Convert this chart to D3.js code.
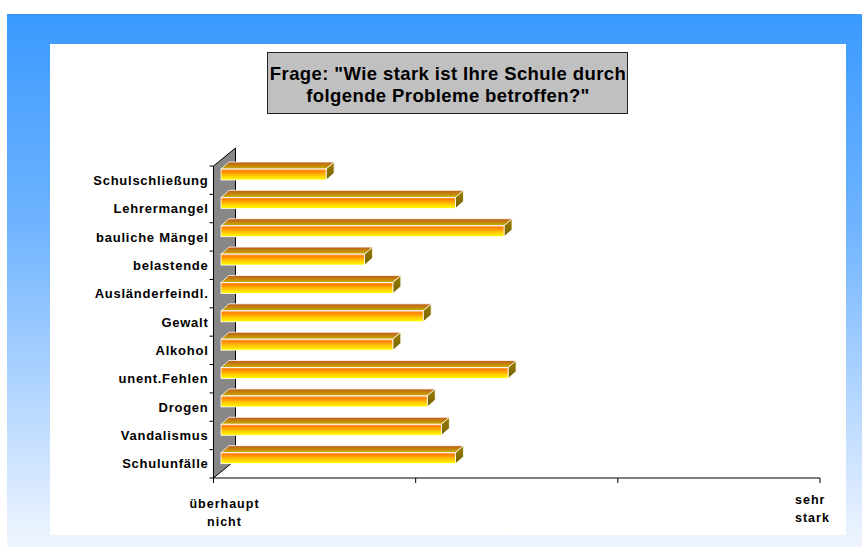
<!DOCTYPE html>
<html>
<head>
<meta charset="utf-8">
<script src="https://cdn.jsdelivr.net/npm/d3@7"></script>
<style>
  html, body { margin: 0; padding: 0; background: #fff; }
  svg { display: block; font-family: Arial, "Liberation Sans", sans-serif; }
</style>
</head>
<body>
<svg id="chart" width="862" height="547"></svg>
<script>
// categories top to bottom, values on a 1 (ueberhaupt nicht) .. 4 (sehr stark) scale
const categories = ["Schulschließung", "Lehrermangel", "bauliche Mängel", "belastende",
  "Ausländerfeindl.", "Gewalt", "Alkohol", "unent.Fehlen", "Drogen", "Vandalismus", "Schulunfälle"];
const values = [1.52, 2.16, 2.40, 1.71, 1.85, 2.00, 1.85, 2.42, 2.02, 2.09, 2.16];
const xTicks = [1, 2, 3, 4];
const xTickLabels = { 1: ["überhaupt", "nicht"], 4: ["sehr", "stark"] };
const titleLines = ["Frage: \"Wie stark ist Ihre Schule durch", "folgende Probleme betroffen?\""];

const svg = d3.select("#chart");
const defs = svg.append("defs");

function vGrad(id, stops) {
  const g = defs.append("linearGradient").attr("id", id)
    .attr("x1", 0).attr("y1", 0).attr("x2", 0).attr("y2", 1);
  stops.forEach(s => g.append("stop").attr("offset", s[0]).attr("stop-color", s[1]));
}
vGrad("bgGrad", [["0%", "#3a9aff"], ["40%", "#70b4ff"], ["100%", "#f0f5ff"]]);
vGrad("frontGrad", [["0%", "#ffb070"], ["18%", "#ff8000"], ["60%", "#ffc800"], ["100%", "#ffff00"]]);
vGrad("topGrad", [["0%", "#c05a18"], ["100%", "#c8b000"]]);
vGrad("sideGrad", [["0%", "#a08000"], ["100%", "#706000"]]);

svg.append("rect").attr("x", 7).attr("y", 14).attr("width", 855).attr("height", 533)
  .attr("fill", "url(#bgGrad)");
svg.append("rect").attr("x", 50).attr("y", 44).attr("width", 796).attr("height", 491)
  .attr("fill", "#fff");

// title box
svg.append("rect").attr("x", 267.5).attr("y", 52.5).attr("width", 360).attr("height", 61)
  .attr("fill", "#c0c0c0").attr("stroke", "#222").attr("stroke-width", 1);
svg.append("text").attr("x", 448).attr("text-anchor", "middle")
  .attr("font-size", 18.5).attr("font-weight", "bold").attr("letter-spacing", 0.4)
  .selectAll("tspan").data(titleLines).join("tspan")
  .attr("x", 448).attr("y", (d, i) => 80 + i * 22).text(d => d);

// scales
const x = d3.scaleLinear().domain([1, 4]).range([213.5, 820]);
const y = d3.scaleBand().domain(categories).range([166, 478]);

const depth = { dx: 22, dy: -18 };  // wall depth
const bd = { dx: 8, dy: -7 };       // bar depth
const off = 7.5;                    // bar front face offset into the chart
const axisX = x(1);
const y0 = y.range()[0], y1 = y.range()[1];

// wall
svg.append("polygon")
  .attr("points", [[axisX, y1], [axisX, y0], [axisX + depth.dx, y0 + depth.dy], [axisX + depth.dx, y1 + depth.dy]].join(" "))
  .attr("fill", "#878787").attr("stroke", "#000").attr("stroke-width", 1);

// y ticks
svg.append("g").selectAll("line")
  .data(d3.range(categories.length + 1))
  .join("line")
  .attr("x1", axisX - 4).attr("x2", axisX)
  .attr("y1", i => y0 + i * y.bandwidth()).attr("y2", i => y0 + i * y.bandwidth())
  .attr("stroke", "#000");

// category labels
svg.append("g").selectAll("text")
  .data(categories).join("text")
  .attr("x", axisX - 5).attr("y", d => y(d) + y.bandwidth() / 2)
  .attr("dy", "0.36em").attr("text-anchor", "end")
  .attr("font-size", 13).attr("font-weight", "bold").attr("letter-spacing", 0.75)
  .attr("fill", "#000").text(d => d);

// bars
const bars = svg.append("g").selectAll("g")
  .data(categories.map((c, i) => ({ c, v: values[i] })))
  .join("g");

const fh = 11;
bars.append("polygon").attr("points", d => {
  const xa = x(1) + off, xb = x(d.v) + off, yf = y(d.c) + 3;
  return [[xa, yf], [xb, yf], [xb + bd.dx, yf + bd.dy], [xa + bd.dx, yf + bd.dy]].join(" ");
}).attr("fill", "url(#topGrad)").attr("stroke", "#fff").attr("stroke-width", 0.8);

bars.append("polygon").attr("points", d => {
  const xb = x(d.v) + off, yf = y(d.c) + 3;
  return [[xb, yf], [xb + bd.dx, yf + bd.dy], [xb + bd.dx, yf + bd.dy + fh], [xb, yf + fh]].join(" ");
}).attr("fill", "url(#sideGrad)").attr("stroke", "#fff").attr("stroke-width", 0.8);

bars.append("rect")
  .attr("x", x(1) + off).attr("y", d => y(d.c) + 3)
  .attr("width", d => x(d.v) - x(1)).attr("height", fh)
  .attr("fill", "url(#frontGrad)").attr("stroke", "#fff").attr("stroke-width", 0.8);

// x axis
const xa = svg.append("g");
xa.append("line").attr("x1", x(1)).attr("x2", x(4)).attr("y1", y1).attr("y2", y1)
  .attr("stroke", "#000");
xa.selectAll("line.tick").data(xTicks).join("line").attr("class", "tick")
  .attr("x1", d => x(d)).attr("x2", d => x(d)).attr("y1", y1).attr("y2", y1 + 5)
  .attr("stroke", "#000");

xa.append("text").attr("font-size", 12.5).attr("font-weight", "bold").attr("letter-spacing", 1)
  .attr("text-anchor", "middle").attr("fill", "#000")
  .selectAll("tspan").data(xTickLabels[1]).join("tspan")
  .attr("x", x(1) + 11).attr("y", (d, i) => 508 + i * 18).text(d => d);

xa.append("text").attr("font-size", 12.5).attr("font-weight", "bold").attr("letter-spacing", 1)
  .attr("text-anchor", "start").attr("fill", "#000")
  .selectAll("tspan").data(xTickLabels[4]).join("tspan")
  .attr("x", 795).attr("y", (d, i) => 504 + i * 18).text(d => d);
</script>
</body>
</html>
